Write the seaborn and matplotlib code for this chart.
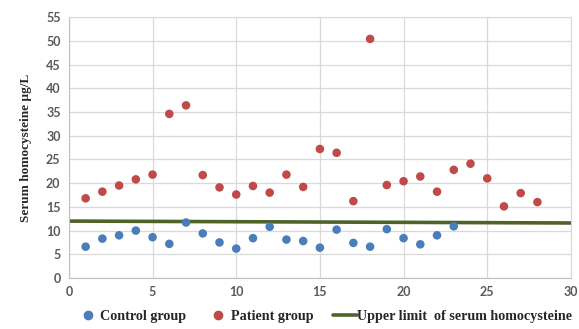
import matplotlib

matplotlib.use("Agg")
import matplotlib.pyplot as plt
import pandas as pd
import seaborn as sns
from matplotlib.lines import Line2D

# values
control_x = list(range(1, 24))
control_y = [6.6, 8.3, 9.0, 10.0, 8.6, 7.2, 11.7, 9.4, 7.5, 6.2, 8.4, 10.8,
             8.1, 7.8, 6.4, 10.2, 7.4, 6.6, 10.3, 8.4, 7.1, 9.0, 10.9]
patient_x = list(range(1, 29))
patient_y = [16.8, 18.2, 19.5, 20.8, 21.8, 34.6, 36.4, 21.7, 19.1, 17.6, 19.4,
             18.0, 21.8, 19.2, 27.2, 26.4, 16.2, 50.4, 19.6, 20.4, 21.4, 18.2,
             22.8, 24.1, 21.0, 15.1, 17.9, 16.0]
limit_x = [0, 30]
limit_y = [12.0, 11.6]

groups = ["Control group", "Patient group"]
palette = {"Control group": "#4a7ebb", "Patient group": "#be4b48"}
line_label = "Upper limit  of serum homocysteine"
line_color = "#4f6228"

df = pd.concat([
    pd.DataFrame({"x": control_x, "y": control_y, "group": groups[0]}),
    pd.DataFrame({"x": patient_x, "y": patient_y, "group": groups[1]}),
])
limit = pd.DataFrame({"x": limit_x, "y": limit_y})

sns.set_style("white")
fig = plt.figure(figsize=(5.79, 3.29), dpi=100)
ax = fig.add_axes([0.119, 0.155, 0.867, 0.793])

sns.lineplot(data=limit, x="x", y="y", color=line_color, linewidth=2.6, ax=ax, zorder=2)
sns.scatterplot(data=df, x="x", y="y", hue="group", palette=palette, s=38,
                edgecolor="none", legend=False, ax=ax, zorder=3)

ax.set_xlim(0, 30)
ax.set_ylim(0, 55)
ax.set_xticks(range(0, 31, 5))
ax.set_yticks(range(0, 56, 5))
ax.grid(True, color="#d9d9d9", linewidth=0.9)
ax.set_axisbelow(True)
for side in ["top", "right", "left", "bottom"]:
    ax.spines[side].set_color("#d9d9d9")
ax.spines["bottom"].set_color("#bfbfbf")
ax.spines["left"].set_color("#bfbfbf")
ax.tick_params(length=0, labelsize=9, colors="#595959", pad=6)
for lab in ax.get_xticklabels() + ax.get_yticklabels():
    lab.set_fontfamily("Lato")
    lab.set_fontweight("bold")
ax.set_xlabel("")
ax.set_ylabel("Serum homocysteine µg/L", family="Liberation Serif",
              fontweight="bold", fontsize=9.5, labelpad=10)

handles = [
    Line2D([], [], marker="o", linestyle="none", color=palette[groups[0]], markersize=6),
    Line2D([], [], marker="o", linestyle="none", color=palette[groups[1]], markersize=6),
    Line2D([], [], color=line_color, linewidth=2.6),
]
fig.legend(handles, groups + [line_label], loc="lower center", ncol=3,
           bbox_to_anchor=(0.56, -0.02), frameon=False, handlelength=1.7,
           handletextpad=0.0, columnspacing=1.4,
           prop={"family": "Liberation Serif", "weight": "bold", "size": 10.2})

fig.savefig("out.png", dpi=100)
